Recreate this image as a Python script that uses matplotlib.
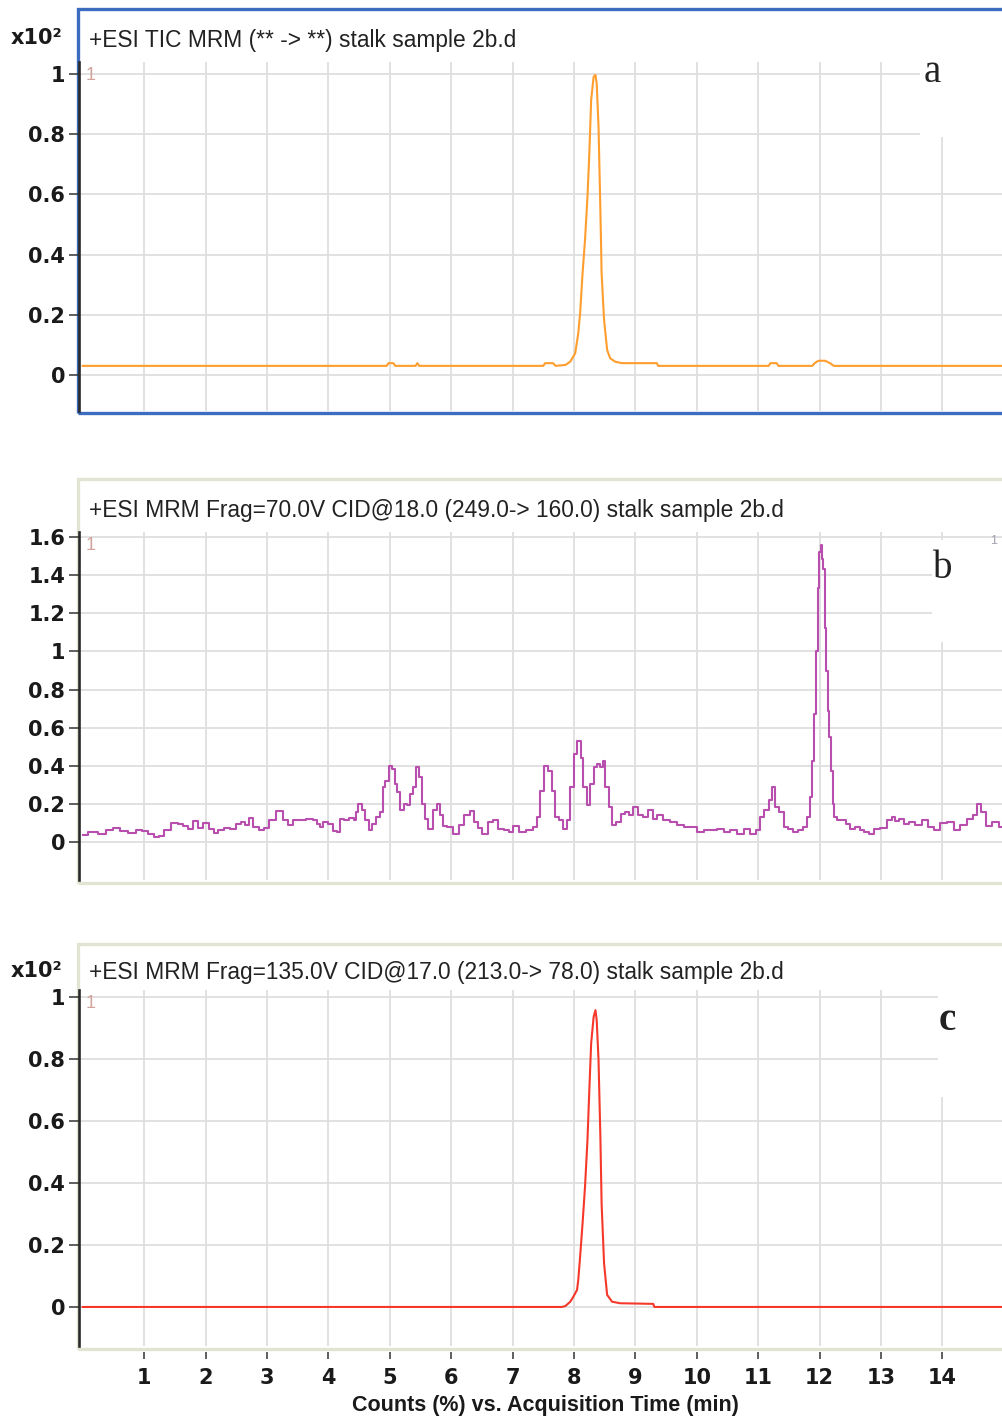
import matplotlib
matplotlib.use("Agg")
import matplotlib.pyplot as plt
from matplotlib.patches import Rectangle
from matplotlib.ticker import FormatStrFormatter


# panel a: TIC MRM (x10^2 counts)
time_a = [0.0, 4.95, 4.98, 5.06, 5.09, 5.42, 5.45, 5.48, 7.50, 7.53, 7.66, 7.70,
          7.86, 7.94, 8.02, 8.07, 8.10, 8.14, 8.18, 8.22, 8.25, 8.28, 8.32, 8.35,
          8.37, 8.40, 8.43, 8.45, 8.49, 8.54, 8.59, 8.67, 8.78, 9.35, 9.37, 11.17,
          11.20, 11.30, 11.33, 11.88, 11.92, 11.98, 12.09, 12.17, 12.23, 15.0]
counts_a = [0.030, 0.030, 0.039, 0.039, 0.030, 0.030, 0.039, 0.030, 0.030, 0.039, 0.039, 0.030,
            0.033, 0.044, 0.072, 0.138, 0.205, 0.338, 0.449, 0.592, 0.736, 0.914, 0.991, 0.997,
            0.969, 0.825, 0.548, 0.338, 0.183, 0.083, 0.055, 0.044, 0.039, 0.039, 0.030, 0.030,
            0.039, 0.039, 0.030, 0.030, 0.039, 0.047, 0.047, 0.039, 0.030, 0.030]

# panel b: 249.0 -> 160.0 transition
time_b = [0.01, 0.17, 0.34, 0.42, 0.56, 0.66, 0.83, 0.91, 1.02, 1.10, 1.21, 1.29,
          1.37, 1.50, 1.59, 1.67, 1.75, 1.83, 1.91, 2.02, 2.10, 2.18, 2.24, 2.35,
          2.45, 2.54, 2.62, 2.67, 2.75, 2.81, 2.92, 3.00, 3.08, 3.21, 3.30, 3.38,
          3.46, 3.57, 3.70, 3.79, 3.84, 3.89, 3.95, 4.03, 4.11, 4.16, 4.22, 4.30,
          4.38, 4.44, 4.46, 4.52, 4.57, 4.63, 4.68, 4.73, 4.82, 4.87, 4.90, 4.95,
          5.01, 5.06, 5.10, 5.14, 5.20, 5.25, 5.30, 5.36, 5.41, 5.45, 5.50, 5.55,
          5.60, 5.66, 5.74, 5.79, 5.85, 5.90, 5.98, 6.09, 6.17, 6.26, 6.34, 6.39,
          6.47, 6.55, 6.64, 6.72, 6.80, 6.91, 6.96, 7.07, 7.15, 7.29, 7.37, 7.42,
          7.48, 7.56, 7.61, 7.67, 7.72, 7.78, 7.86, 7.91, 7.97, 8.02, 8.09, 8.13,
          8.18, 8.24, 8.29, 8.35, 8.40, 8.45, 8.48, 8.54, 8.59, 8.64, 8.72, 8.80,
          8.86, 8.92, 9.00, 9.08, 9.16, 9.24, 9.32, 9.40, 9.51, 9.62, 9.73, 9.84,
          9.95, 10.06, 10.16, 10.27, 10.38, 10.49, 10.60, 10.71, 10.82, 10.92, 11.00, 11.06,
          11.14, 11.20, 11.26, 11.30, 11.39, 11.44, 11.52, 11.60, 11.68, 11.77, 11.82, 11.86,
          11.90, 11.93, 11.96, 11.98, 12.01, 12.03, 12.05, 12.07, 12.09, 12.13, 12.15, 12.17,
          12.20, 12.23, 12.25, 12.31, 12.39, 12.47, 12.53, 12.61, 12.69, 12.77, 12.85, 12.93,
          13.04, 13.15, 13.20, 13.26, 13.34, 13.42, 13.50, 13.61, 13.72, 13.80, 13.91, 14.02,
          14.13, 14.24, 14.34, 14.45, 14.53, 14.60, 14.67, 14.75, 14.86, 14.97]
counts_b = [0.036, 0.054, 0.045, 0.066, 0.076, 0.059, 0.050, 0.066, 0.059, 0.042, 0.028, 0.031,
            0.066, 0.101, 0.094, 0.083, 0.071, 0.111, 0.076, 0.101, 0.071, 0.049, 0.066, 0.076,
            0.071, 0.094, 0.106, 0.089, 0.128, 0.080, 0.066, 0.076, 0.115, 0.163, 0.118, 0.089,
            0.118, 0.115, 0.123, 0.115, 0.097, 0.080, 0.106, 0.097, 0.059, 0.054, 0.123, 0.115,
            0.128, 0.115, 0.158, 0.198, 0.167, 0.115, 0.063, 0.097, 0.132, 0.158, 0.288, 0.323,
            0.401, 0.384, 0.306, 0.262, 0.167, 0.201, 0.193, 0.254, 0.288, 0.392, 0.340, 0.201,
            0.123, 0.071, 0.167, 0.201, 0.141, 0.083, 0.080, 0.045, 0.089, 0.141, 0.163, 0.106,
            0.076, 0.045, 0.106, 0.115, 0.071, 0.063, 0.054, 0.083, 0.054, 0.063, 0.080, 0.132,
            0.271, 0.401, 0.375, 0.271, 0.132, 0.115, 0.071, 0.115, 0.288, 0.462, 0.531, 0.444,
            0.288, 0.193, 0.306, 0.392, 0.410, 0.392, 0.427, 0.288, 0.184, 0.089, 0.106, 0.149,
            0.158, 0.141, 0.184, 0.141, 0.132, 0.167, 0.123, 0.141, 0.115, 0.106, 0.089, 0.080,
            0.080, 0.054, 0.063, 0.063, 0.071, 0.054, 0.063, 0.045, 0.071, 0.045, 0.063, 0.132,
            0.167, 0.219, 0.288, 0.184, 0.158, 0.080, 0.071, 0.054, 0.063, 0.080, 0.132, 0.236,
            0.427, 0.670, 1.000, 1.330, 1.520, 1.556, 1.486, 1.434, 1.121, 0.896, 0.688, 0.549,
            0.375, 0.201, 0.132, 0.115, 0.115, 0.097, 0.071, 0.080, 0.063, 0.054, 0.045, 0.071,
            0.076, 0.115, 0.132, 0.111, 0.123, 0.097, 0.106, 0.089, 0.118, 0.080, 0.066, 0.101,
            0.106, 0.063, 0.089, 0.123, 0.141, 0.201, 0.158, 0.083, 0.106, 0.080]

# panel c: 213.0 -> 78.0 transition (x10^2 counts)
time_c = [0.0, 7.80, 7.86, 7.94, 7.99, 8.05, 8.07, 8.10, 8.14, 8.18, 8.22, 8.25, 8.28, 8.32,
          8.35, 8.37, 8.40, 8.43, 8.45, 8.49, 8.54, 8.62, 8.75, 9.29, 9.31, 15.0]
counts_c = [0.0, 0.0, 0.003, 0.017, 0.033, 0.055, 0.087, 0.162, 0.270, 0.388, 0.539, 0.700, 0.851,
            0.936, 0.958, 0.926, 0.797, 0.549, 0.334, 0.141, 0.039, 0.017, 0.012, 0.010, 0.0, 0.0]

titles = ["+ESI TIC MRM (** -> **) stalk sample 2b.d",
          "+ESI MRM Frag=70.0V CID@18.0 (249.0-> 160.0) stalk sample 2b.d",
          "+ESI MRM Frag=135.0V CID@17.0 (213.0-> 78.0) stalk sample 2b.d"]
letters = ["a", "b", "c"]
x_ticks = list(range(1, 15))

W, H = 1002, 1417
fig = plt.figure(figsize=(W / 100, H / 100), dpi=100)


def fig_rect(x0, y0, x1, y1):
    # pixel box (top-left origin) -> figure fraction [left, bottom, width, height]
    return [x0 / W, 1 - y1 / H, (x1 - x0) / W, (y1 - y0) / H]


def fx(x):
    return x / W


def fy(y):
    return 1 - y / H


panels = [
    dict(ax=(79, 62, 1002, 411), frame=(78, 9, 1012, 413), fc="#3c6cc0",
         ylim=(-0.12, 1.04), ymax=1.0, color="#ff9d2e", ds="default",
         wbox=(0.911, 0.785, 0.2, 0.3), letter=(932, 82), lw="normal",
         t=time_a, v=counts_a, title_y=40, x10=True),
    dict(ax=(79, 532, 1002, 880), frame=(78, 479, 1012, 883), fc="#e3e3d3",
         ylim=(-0.198, 1.626), ymax=1.6, color="#b84fae", ds="steps-mid",
         wbox=(0.924, 0.684, 0.2, 0.293), letter=(943, 578), lw="normal",
         t=time_b, v=counts_b, title_y=510, x10=False),
    dict(ax=(79, 990, 1002, 1346), frame=(78, 944, 1012, 1349), fc="#e3e3d3",
         ylim=(-0.126, 1.023), ymax=1.0, color="#f5382a", ds="default",
         wbox=(0.931, 0.70, 0.2, 0.3), letter=(947, 1030), lw="bold",
         t=time_c, v=counts_c, title_y=973, x10=True),
]

for i, p in enumerate(panels):
    # panel frame (header + plot)
    fx0, fy0, fx1, fy1 = p["frame"]
    fig.add_artist(Rectangle((fx(fx0), fy(fy1)), fx(fx1 - fx0), (fy1 - fy0) / H,
                             transform=fig.transFigure, fill=False,
                             edgecolor=p["fc"], lw=2.4, zorder=-1))

    ax = fig.add_axes(fig_rect(*p["ax"]))
    ax.set_facecolor("white")
    ax.plot(p["t"], p["v"], color=p["color"], lw=1.5, drawstyle=p["ds"], zorder=3)
    ax.set_xlim(-0.06, 14.97)
    ax.set_ylim(*p["ylim"])

    ax.set_xticks(x_ticks)
    ax.set_yticks([k * 0.2 for k in range(int(round(p["ymax"] / 0.2)) + 1)])
    ax.yaxis.set_major_formatter(FormatStrFormatter("%g"))
    ax.set_axisbelow(True)
    ax.grid(True, color="#dedede", lw=1.3)

    for side in ["top", "right", "bottom"]:
        ax.spines[side].set_visible(False)
    ax.spines["left"].set_color("#2b2b2b")
    ax.spines["left"].set_linewidth(1.9)

    ax.tick_params(axis="y", direction="out", length=7, width=1.1, color="#333333",
                   pad=3, labelsize=15, labelcolor="#1a1a1a")
    for lab in ax.get_yticklabels():
        lab.set_fontweight("bold")
        lab.set_family("DejaVu Sans")

    if i < 2:
        ax.tick_params(axis="x", length=0, labelbottom=False)
    else:
        ax.spines["bottom"].set_position(("outward", 4.5))
        ax.tick_params(axis="x", direction="out", length=5, width=1.1, color="#333333",
                       pad=6, labelsize=15, labelcolor="#1a1a1a")
        for lab in ax.get_xticklabels():
            lab.set_fontweight("bold")
            lab.set_family("DejaVu Sans")

    # white patch behind the panel letter
    ax.add_patch(Rectangle(p["wbox"][:2], p["wbox"][2], p["wbox"][3],
                           transform=ax.transAxes, facecolor="white",
                           edgecolor="none", zorder=1.5))

    # header text
    fig.text(fx(89), fy(p["title_y"]), titles[i], fontsize=16.4,
             family="Liberation Sans", color="#222222", va="center", ha="left")
    if p["x10"]:
        fig.text(fx(62), fy(p["title_y"] - 2), "x10²", fontsize=15, fontweight="bold",
                 family="DejaVu Sans", color="#1a1a1a", va="center", ha="right")

    # small peak marker "1"
    fig.text(fx(86), fy(p["ax"][1] + 13), "1", fontsize=13, color="#d0a49c",
             family="Liberation Sans", va="center", ha="left")

    lx, ly = p["letter"]
    fig.text(fx(lx), fy(ly), letters[i], fontsize=28, fontweight=p["lw"],
             family="Liberation Serif", color="#222222", ha="center", va="baseline",
             zorder=5)

fig.text(fx(994), fy(541), "1", fontsize=9, color="#a0a0b0",
         family="Liberation Sans", va="center", ha="center")

fig.text(fx(545), fy(1405), "Counts (%) vs. Acquisition Time (min)", fontsize=15.5,
         fontweight="bold", family="Liberation Sans", color="#1a1a1a",
         ha="center", va="center")

fig.savefig("out.png", dpi=100)
